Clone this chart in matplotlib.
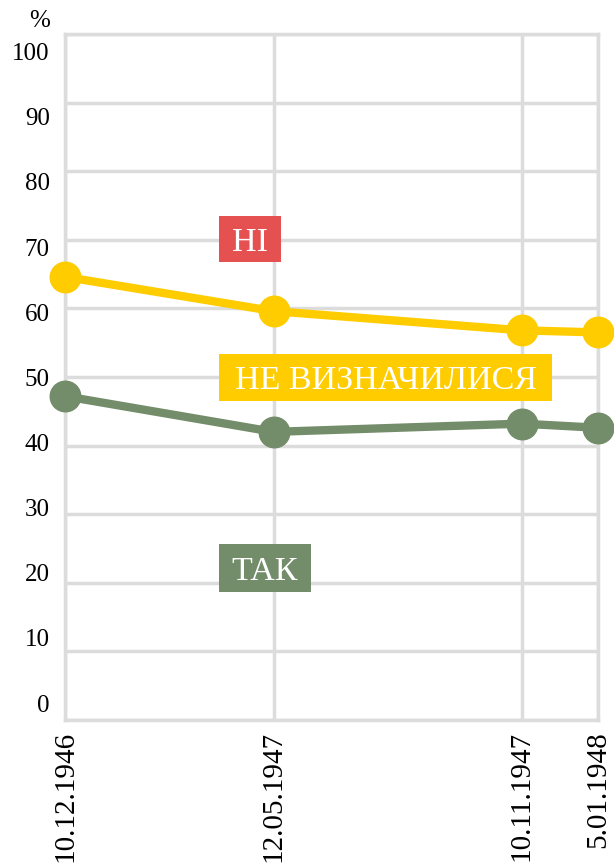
import matplotlib
matplotlib.use("Agg")
import matplotlib.pyplot as plt
from matplotlib.patches import Rectangle
import datetime as dt

# ---- data ----
date_labels = ["10.12.1946", "12.05.1947", "10.11.1947", "5.01.1948"]
dates = [dt.date(1946, 12, 10), dt.date(1947, 5, 12), dt.date(1947, 11, 10), dt.date(1948, 1, 5)]
undecided_top = [64.6, 59.6, 56.8, 56.5]   # yellow line
yes_values = [47.2, 42.0, 43.2, 42.6]      # green line
y_ticks = [0, 10, 20, 30, 40, 50, 60, 70, 80, 90, 100]
labels = ["НІ", "НЕ ВИЗНАЧИЛИСЯ", "ТАК"]

YELLOW = "#FFCC00"
GREEN = "#738C69"
RED = "#E55050"
GRID = "#DCDCDC"

plt.rcParams['font.family'] = ['Liberation Serif', 'DejaVu Serif']

fig = plt.figure(figsize=(6.14, 8.66), dpi=100)
ax = fig.add_axes([65/614, (866-720)/866, (598-65)/614, (720-34)/866])

ax.set_xlim(dates[0], dates[-1])
ax.set_ylim(0, 100)
ax.set_yticks(y_ticks)
ax.set_yticklabels([])
ax.set_xticks(dates)
ax.set_xticklabels(date_labels, rotation=90, fontsize=21)
ax.tick_params(axis='x', length=0, pad=8, colors='black')
ax.tick_params(axis='y', length=0)
ax.grid(True, color=GRID, linewidth=2.5)
ax.set_axisbelow(True)
for s in ax.spines.values():
    s.set_color(GRID)
    s.set_linewidth(2.5)

ax.plot(dates, undecided_top, color=YELLOW, linewidth=6, marker='o', markersize=22,
        clip_on=False, zorder=5)
ax.plot(dates, yes_values, color=GREEN, linewidth=6, marker='o', markersize=22,
        clip_on=False, zorder=5)

# y tick labels (placed on an overlay axis, as in the original design)
ax2 = ax.twinx()
ax2.set_ylim(-2.6, 102.7)
ax2.yaxis.tick_left()
ax2.set_yticks(y_ticks)
ax2.set_yticklabels([str(v) for v in y_ticks], fontsize=18)
ax2.tick_params(axis='y', length=0, pad=11)
for s in ax2.spines.values():
    s.set_visible(False)

ax.text(-0.047, 1.019, "%", transform=ax.transAxes, ha='center', va='center', fontsize=18)

# label boxes
x0 = (219 - 65) / 533
boxes = [
    (labels[0], RED, (281 - 219) / 533, (720 - 262) / 686, 46 / 686),
    (labels[1], YELLOW, (552 - 219) / 533, (720 - 401) / 686, 47 / 686),
    (labels[2], GREEN, (311 - 219) / 533, (720 - 592) / 686, 48 / 686),
]
for text, color, w, y0, h in boxes:
    ax.add_patch(Rectangle((x0, y0), w, h, transform=ax.transAxes, facecolor=color,
                           edgecolor='none', zorder=6, clip_on=False))
    ax.text(x0 + w / 2, y0 + h / 2, text, transform=ax.transAxes, ha='center',
            va='center_baseline', color='white', fontsize=24.5, zorder=7)

fig.savefig("out.png", dpi=100)
